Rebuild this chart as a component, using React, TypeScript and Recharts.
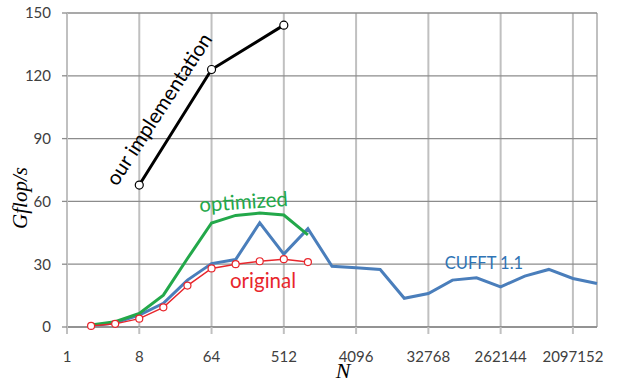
import { LineChart, Line, XAxis, YAxis, CartesianGrid } from "recharts"

// x positions are log2(N)
const log2N = [1, 2, 3, 4, 5, 6, 7, 8, 9, 10, 11, 12, 13, 14, 15, 16, 17, 18, 19, 20, 21, 22]
const xTicks = [0, 3, 6, 9, 12, 15, 18, 21]
const yTicks = [0, 30, 60, 90, 120, 150]

const cufft = [0.5, 2, 5.7, 11.3, 22.4, 30.3, 32.2, 49.8, 34.8, 47, 29, 28.3, 27.5, 13.7, 16, 22.4, 23.5, 19.2, 24.3, 27.5, 23.2, 20.8]
const optimized = [1, 2.5, 6.5, 15.2, 32.7, 49.7, 53.3, 54.4, 53.5, 44]
const original = [0.5, 1.5, 4, 9.4, 19.8, 28, 30, 31.4, 32.4, 31]
const oursX = [3, 6, 9]
const ours = [67.8, 123, 144.2]

const data = log2N.map((x, i) => {
  const k = oursX.indexOf(x)
  return {
    x,
    cufft: cufft[i],
    optimized: optimized[i],
    original: original[i],
    ours: k >= 0 ? ours[k] : undefined,
  }
})

const FONT = "Lato, 'Open Sans', sans-serif"
const HGRID = "#8c8c8c"
const VGRID = "#c0c0c0"

export default function App() {
  return (
    <div style={{ position: "absolute", left: 0, top: 0, width: 617, height: 381, background: "#fff" }}>
      <LineChart width={617} height={381} data={data} margin={{ top: 13, right: 20, bottom: 14, left: 8 }}>
        <CartesianGrid horizontal={false} stroke={VGRID} strokeWidth={2} />
        <CartesianGrid vertical={false} stroke={HGRID} strokeWidth={1.3} />
        <XAxis
          dataKey="x"
          type="number"
          domain={[0, 22]}
          ticks={xTicks}
          tickFormatter={(v: number) => String(2 ** v)}
          height={40}
          tickSize={7}
          tickMargin={17}
          axisLine={{ stroke: HGRID, strokeWidth: 1.3 }}
          tickLine={{ stroke: VGRID, strokeWidth: 2 }}
          tick={{ fill: "#404040", fontSize: 15, fontFamily: FONT }}
        />
        <YAxis
          domain={[0, 150]}
          ticks={yTicks}
          width={59}
          tickSize={5}
          tickMargin={11}
          axisLine={{ stroke: VGRID, strokeWidth: 2 }}
          tickLine={{ stroke: HGRID, strokeWidth: 1.3 }}
          tick={{ fill: "#404040", fontSize: 15, fontFamily: FONT }}
        />
        <Line dataKey="cufft" stroke="#4a7ebb" strokeWidth={3} dot={false} isAnimationActive={false} />
        <Line dataKey="optimized" stroke="#23a84a" strokeWidth={3} dot={false} isAnimationActive={false} />
        <Line
          dataKey="original"
          stroke="#e8262c"
          strokeWidth={1.5}
          dot={{ r: 3.5, fill: "#fff", stroke: "#e8262c", strokeWidth: 1.2 }}
          isAnimationActive={false}
        />
        <Line
          dataKey="ours"
          connectNulls
          stroke="#000"
          strokeWidth={3}
          dot={{ r: 4, fill: "#fff", stroke: "#000", strokeWidth: 1.2 }}
          isAnimationActive={false}
        />
      </LineChart>
      <svg width={617} height={381} style={{ position: "absolute", left: 0, top: 0, pointerEvents: "none" }}>
        <text x={165} y={113} textAnchor="middle" fontFamily={FONT} fontSize={20.5} fill="#000" transform="rotate(-57 165 113)">
          our implementation
        </text>
        <text x={244} y={209} textAnchor="middle" fontFamily={FONT} fontSize={20.5} fill="#23a84a" transform="rotate(-4 244 209)">
          optimized
        </text>
        <text x={263} y={288} textAnchor="middle" fontFamily={FONT} fontSize={20.5} fill="#e8262c">
          original
        </text>
        <text x={484} y={269} textAnchor="middle" fontFamily={FONT} fontSize={16.5} fill="#2f74b5">
          CUFFT 1.1
        </text>
        <text x={27} y={198} textAnchor="middle" fontFamily="'Liberation Serif', serif" fontStyle="italic" fontSize={21} fill="#000" transform="rotate(-90 27 198)">
          Gflop/s
        </text>
        <text x={343} y={378} textAnchor="middle" fontFamily="'Liberation Serif', serif" fontStyle="italic" fontSize={22} fill="#000">
          N
        </text>
      </svg>
    </div>
  )
}
